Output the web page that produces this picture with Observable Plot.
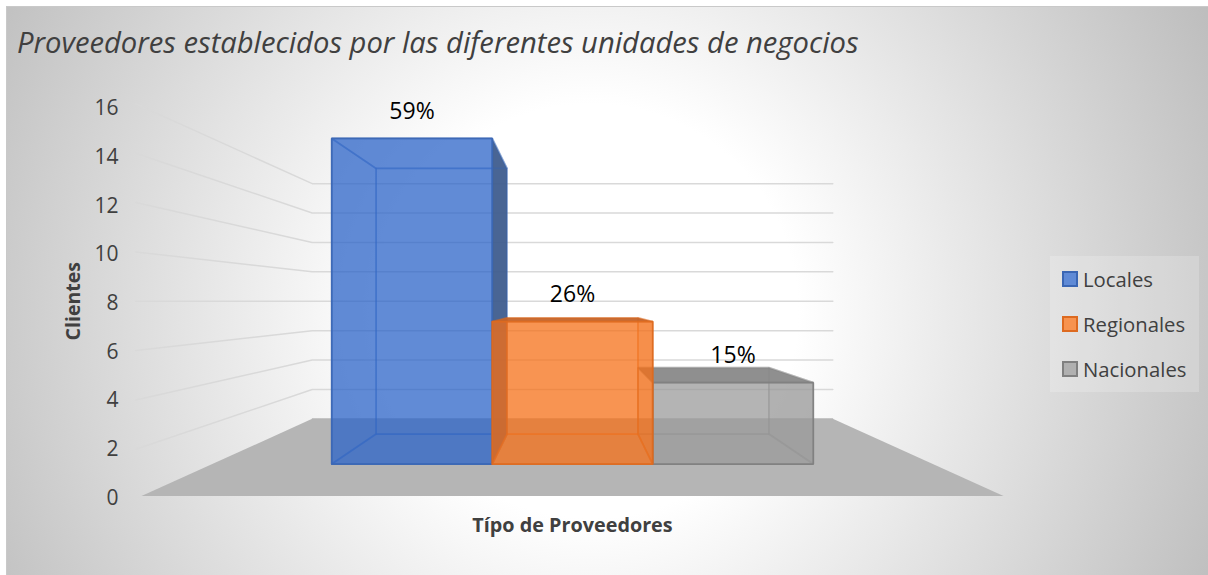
<!DOCTYPE html>
<html lang="es">
<head>
<meta charset="utf-8">
<script src="https://cdn.jsdelivr.net/npm/d3@7"></script>
<script src="https://cdn.jsdelivr.net/npm/@observablehq/plot@0.6"></script>
<style>
  html, body { margin: 0; padding: 0; background: #fff; overflow: hidden; }
  #chart { position: relative; width: 1208px; height: 575px; font-family: "Open Sans", sans-serif; }
  #bg { position: absolute; left: 6px; top: 6px; right: 0; bottom: 0; box-sizing: border-box;
        border-top: 1.5px solid #c9c9c9; border-left: 1.5px solid #c9c9c9;
        background: radial-gradient(circle 690px at 584px 304px, #fff 0%, #fff 30%, #bdbdbd 100%); }
  #title { position: absolute; left: 17px; top: 22px; margin: 0; font-size: 29.2px; font-weight: 400; font-style: italic; color: #404040; white-space: nowrap; }
  #legend { position: absolute; left: 1050px; top: 256px; width: 149px; height: 136px; background: rgba(255,255,255,.2); }
  .item { position: absolute; left: 12px; display: flex; align-items: center; font-size: 20.3px; color: #404040; white-space: nowrap; height: 24px; }
  .sw { width: 12px; height: 12px; border-width: 2px; border-style: solid; margin-right: 5px; flex: none; }
  svg { position: absolute; left: 0; top: 0; }
</style>
</head>
<body>
<div id="chart">
  <div id="bg"></div>
</div>
<script>
// --- Chart values ---
const titleText = "Proveedores establecidos por las diferentes unidades de negocios";
const categories = ["Locales", "Regionales", "Nacionales"];
const values = [16, 7, 4];
const shares = ["59%", "26%", "15%"];
const yTicks = [0, 2, 4, 6, 8, 10, 12, 14, 16];
const yTitle = "Clientes";
const xTitle = "Típo de Proveedores";

// --- Colours per series ---
const frontFill = ["#2a63c8", "#f56f16", "#9a9a9a"];
const edgeStroke = ["#3a66b4", "#dd6a20", "#808080"];
const darkFill = ["#3f5d8e", "#c4642a", "#898989"];
const legendFill = ["#5f8ad6", "#f7934f", "#b0b0b0"];
const floorFill = "#b5b5b5";
const gridStroke = "#d9d9d9";

// --- 3D box model: each point is (band offset u, value v, depth d) ---
const eyeLevel = 8;                    // value seen straight on
const perspective = 0.656;             // foreshortening with depth
const scaleAt = d => 1 / (1 + perspective * d);
const X = (u, d) => u * scaleAt(d);
const Y = (v, d) => eyeLevel + (v - eyeLevel) * scaleAt(d);
const pt = (u, v, d) => ({x: X(u, d), y: Y(v, d)});

const floorHalf = 2.245, wallStart = -0.02, barFront = 0.299, barBack = 0.711;

const floor = [[-1, 0], [1, 0], [1, 1], [-1, 1], [-1, 0]]
  .map(([s, d]) => pt(s * floorHalf, 0, d));

const grid = yTicks.slice(1).flatMap(t => [
  {...pt(-floorHalf, t, wallStart), t},
  {...pt(-floorHalf, t, 1), t},
  {...pt(floorHalf, t, 1), t}
]);
const backBase = [pt(-floorHalf, 0, 1), pt(floorHalf, 0, 1)];

// faces are drawn back to front: the middle bar goes last
const drawOrder = [0, 2, 1];
const faces = drawOrder.flatMap(i => {
  const l = i - 1.5, r = i - 0.5, v = values[i];
  const quad = (name, fill, op, sop, corners) => {
    const pts = [...corners, corners[0]];
    return pts.map(([u, val, d]) => ({...pt(u, val, d), id: `${i}-${name}`, fill, op, sop, stroke: edgeStroke[i]}));
  };
  return [
    ...quad("back", frontFill[i], 0, 0.35, [[l, 0, barBack], [r, 0, barBack], [r, v, barBack], [l, v, barBack]]),
    ...quad("bottom", frontFill[i], 0, 0.35, [[l, 0, barFront], [r, 0, barFront], [r, 0, barBack], [l, 0, barBack]]),
    ...quad("left", darkFill[i], i === 0 ? 0 : 0.12, 0.35, [[l, 0, barFront], [l, 0, barBack], [l, v, barBack], [l, v, barFront]]),
    ...quad("right", darkFill[i], i === 0 ? 0.95 : 0.12, 0.35, [[r, 0, barFront], [r, 0, barBack], [r, v, barBack], [r, v, barFront]]),
    ...quad("top", darkFill[i], i === 0 ? 0 : 0.95, 0.35, [[l, v, barFront], [r, v, barFront], [r, v, barBack], [l, v, barBack]]),
    ...quad("front", frontFill[i], 0.74, 0.95, [[l, 0, barFront], [r, 0, barFront], [r, v, barFront], [l, v, barFront]])
  ];
});

const labels = categories.map((c, i) => ({...pt(i - 1, values[i], barFront), text: shares[i]}));

const plot = Plot.plot({
  width: 1208,
  height: 575,
  marginLeft: 118,
  marginRight: 20,
  marginTop: 106,
  marginBottom: 80,
  style: {background: "transparent", fontFamily: "'Open Sans', sans-serif", overflow: "visible"},
  x: {domain: [-1.5, 1.5], range: [284, 860], axis: null},
  y: {domain: [0, 16], range: [495.5, 106]},
  marks: [
    Plot.axisY({ticks: yTicks, tickSize: 0, tickPadding: 0, dy: 2, label: null, fontSize: 21, color: "#404040", tickFormat: d => d}),
    Plot.line(grid, {x: "x", y: "y", z: "t", stroke: gridStroke, strokeWidth: 1.5, curve: "linear"}),
    Plot.line(floor, {x: "x", y: "y", fill: floorFill, stroke: "none"}),
    Plot.line(backBase, {x: "x", y: "y", stroke: floorFill, strokeWidth: 1}),
    Plot.line(faces, {x: "x", y: "y", z: "id", fill: "fill", fillOpacity: "op", stroke: "stroke", strokeWidth: 1.7, strokeOpacity: "sop", strokeLinejoin: "miter"}),
    Plot.text(labels, {x: "x", y: "y", text: "text", dy: -27, fontSize: 23, fill: "#000"}),
    Plot.text([yTitle], {text: d => d, y: () => eyeLevel, frameAnchor: "left", textAnchor: "middle", dx: -45, rotate: -90, fontSize: 19.5, fontWeight: 700, fill: "#404040"}),
    Plot.text([xTitle], {text: d => d, x: () => 0, frameAnchor: "bottom", dy: 36, fontSize: 19.8, fontWeight: 700, fill: "#404040"})
  ]
});

const chart = document.getElementById("chart");
chart.appendChild(plot);

const title = document.createElement("div");
title.id = "title";
title.textContent = titleText;
chart.appendChild(title);

const legend = document.createElement("div");
legend.id = "legend";
categories.forEach((c, i) => {
  const item = document.createElement("div");
  item.className = "item";
  item.style.top = (11 + i * 45) + "px";
  const sw = document.createElement("span");
  sw.className = "sw";
  sw.style.background = legendFill[i];
  sw.style.borderColor = edgeStroke[i];
  const t = document.createElement("span");
  t.textContent = c;
  item.append(sw, t);
  legend.appendChild(item);
});
chart.appendChild(legend);
</script>
</body>
</html>
